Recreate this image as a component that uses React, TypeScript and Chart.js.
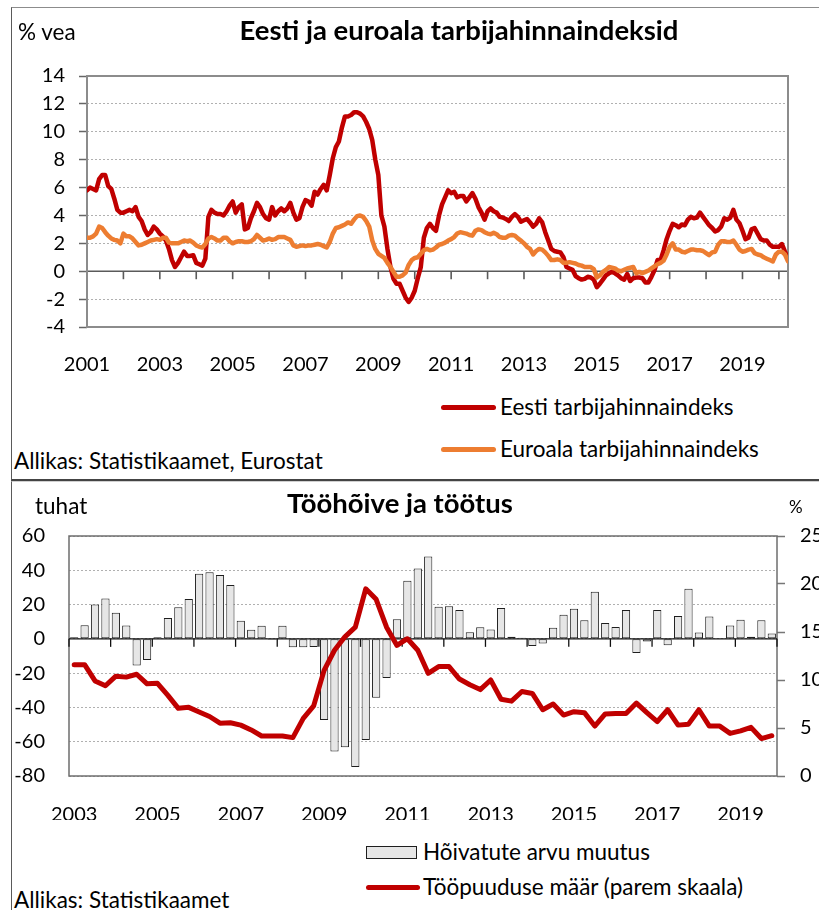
import React, { useEffect, useRef } from 'react';
import { Chart, registerables } from 'chart.js';

Chart.register(...registerables);

const FONT = 'Lato, "Open Sans", sans-serif';
const RED = '#C00000';
const ORANGE = '#ED7D31';

// ---------- Top chart: monthly CPI, Jan 2001 .. Apr 2020 ----------
const cpiStartYear = 2001;
const cpiAxisYears = [2001, 2003, 2005, 2007, 2009, 2011, 2013, 2015, 2017, 2019];
const cpiTickYears = [2001, 2002, 2003, 2004, 2005, 2006, 2007, 2008, 2009, 2010, 2011, 2012, 2013, 2014, 2015, 2016, 2017, 2018, 2019, 2020];
const cpiYTicks = [-4, -2, 0, 2, 4, 6, 8, 10, 12, 14];

const estoniaCpi = [
  5.8, 6.0, 5.9, 5.8, 6.6, 6.9, 6.9, 6.1, 5.9, 5.2, 4.4, 4.2,
  4.2, 4.3, 4.4, 4.3, 4.6, 3.9, 3.6, 3.0, 2.6, 2.8, 3.2, 3.0,
  2.7, 2.5, 2.2, 1.6, 0.8, 0.3, 0.6, 1.0, 1.4, 1.1, 1.1, 1.15,
  0.6, 0.5, 0.4, 0.9, 3.9, 4.4, 4.2, 4.1, 4.1, 4.0, 4.3, 4.7,
  5.0, 4.2, 4.6, 4.8, 3.0, 3.1, 3.8, 4.3, 4.9, 4.6, 4.1, 3.8,
  3.7, 4.6, 4.0, 4.3, 4.5, 4.3, 4.5, 4.9, 4.2, 3.7, 3.8, 4.6,
  5.1, 5.0, 4.7, 5.7, 5.5, 5.9, 6.2, 5.8, 6.9, 8.1, 8.9, 9.3,
  10.3, 11.1, 11.1, 11.2, 11.4, 11.4, 11.3, 11.1, 10.7, 10.2, 9.4, 8.0,
  6.9, 4.0, 3.2, 1.6, 0.3, -0.55, -0.9, -0.9, -1.4, -1.9, -2.2, -1.9,
  -1.4, -0.5, 0.3, 2.4, 3.1, 3.4, 3.1, 2.9, 4.0, 4.8, 5.3, 5.8,
  5.6, 5.7, 5.3, 5.4, 5.4, 5.0, 5.3, 5.6, 5.2, 4.6, 4.2, 3.7,
  4.3, 4.5, 4.3, 4.2, 3.9, 3.85, 3.75, 3.6, 3.9, 4.1, 3.9, 3.55,
  3.65, 3.75, 3.5, 3.2, 3.4, 3.8, 3.5, 2.8, 2.2, 1.6, 1.45, 1.4,
  1.35, 1.0, 0.3, 0.2, 0.1, -0.35, -0.5, -0.6, -0.55, -0.4, -0.45, -0.6,
  -1.15, -0.9, -0.6, -0.3, -0.15, -0.05, -0.15, -0.3, -0.5, -0.6, -0.2, -0.7,
  -0.5, -0.45, -0.45, -0.5, -0.8, -0.8, -0.4, 0.07, 0.8, 0.8, 1.5, 2.3,
  2.9, 3.4, 3.3, 3.15, 3.35, 3.3, 3.7, 3.9, 3.8, 3.85, 4.2, 3.9,
  3.6, 3.3, 3.1, 2.85, 2.95, 3.2, 3.8, 3.7, 3.85, 4.4, 3.7, 3.45,
  2.9, 2.3, 2.4, 3.0, 3.1, 2.7, 2.3, 2.2, 2.2, 1.9, 1.75, 1.75,
  1.75, 1.95, 1.4, 0.9,
];

const euroAreaCpi = [
  2.4, 2.4, 2.5, 2.7, 3.2, 3.1, 2.8, 2.55, 2.35, 2.25, 2.2, 2.0,
  2.7, 2.5, 2.5, 2.35, 2.1, 1.85, 1.9, 2.0, 2.1, 2.2, 2.25, 2.3,
  2.25, 2.4, 2.4, 2.05, 2.0, 2.0, 2.0, 2.1, 2.2, 2.15, 2.2, 2.05,
  1.85, 1.75, 1.7, 1.95, 2.35, 2.45, 2.35, 2.2, 2.2, 2.4, 2.4, 2.15,
  2.0, 2.1, 2.15, 2.15, 2.1, 2.1, 2.15, 2.3, 2.6, 2.4, 2.2, 2.25,
  2.35, 2.25, 2.3, 2.45, 2.45, 2.45, 2.35, 2.25, 1.85, 1.75, 1.8, 1.85,
  1.8, 1.85, 1.85, 1.9, 1.95, 1.9, 1.8, 1.7, 2.1, 2.7, 3.1, 3.15,
  3.25, 3.35, 3.5, 3.4, 3.7, 3.95, 4.0, 3.9, 3.6, 3.2, 2.2, 1.6,
  1.25, 1.1, 0.95, 0.6, 0.3, -0.05, -0.4, -0.4, -0.3, -0.1, 0.45, 0.8,
  0.95, 1.0, 1.25, 1.5, 1.6, 1.5, 1.55, 1.7, 1.9, 1.95, 2.05, 2.2,
  2.3, 2.45, 2.7, 2.8, 2.75, 2.7, 2.6, 2.55, 2.9, 3.0, 2.95, 2.8,
  2.7, 2.65, 2.75, 2.65, 2.45, 2.4, 2.4, 2.55, 2.6, 2.55, 2.35, 2.2,
  2.0, 1.75, 1.6, 1.2, 1.45, 1.6, 1.55, 1.35, 1.1, 0.8, 0.8, 0.85,
  0.8, 0.6, 0.6, 0.65, 0.6, 0.55, 0.45, 0.4, 0.3, 0.3, 0.3, 0.15,
  -0.45, -0.3, -0.05, 0.1, 0.3, 0.25, 0.2, 0.05, 0.0, 0.1, 0.2, 0.25,
  0.3, -0.15, -0.05, -0.15, -0.05, 0.05, 0.2, 0.35, 0.5, 0.6, 0.75, 1.2,
  1.75, 2.0, 1.55, 1.55, 1.4, 1.35, 1.45, 1.55, 1.55, 1.5, 1.5, 1.45,
  1.3, 1.15, 1.35, 1.4, 1.9, 2.15, 2.15, 2.1, 2.1, 2.2, 1.9, 1.55,
  1.4, 1.45, 1.55, 1.6, 1.3, 1.2, 1.15, 1.0, 0.9, 0.8, 0.7, 1.2,
  1.4, 1.4, 1.2, 0.7,
];

// ---------- Bottom chart: quarterly labour market, 2003 .. 2019 ----------
const lmYears = [2003, 2004, 2005, 2006, 2007, 2008, 2009, 2010, 2011, 2012, 2013, 2014, 2015, 2016, 2017, 2018, 2019];
const quarterNames = ['I', 'II', 'III', 'IV'];
const lmLabelYears = [2003, 2005, 2007, 2009, 2011, 2013, 2015, 2017, 2019];
const lmLeftTicks = [-80, -60, -40, -20, 0, 20, 40, 60];
const lmRightTicks = [0, 5, 10, 15, 20, 25];

const employmentChange = [
  1, 8, 20, 23.5, 15.3, 7.8, -15.5, -12.4, 1, 12.2,
  18.4, 23.3, 38, 38.8, 37.2, 31.4, 10.6, 5.3, 7.6, -0.5,
  7.6, -4.9, -4.9, -4.7, -47.4, -65.7, -63.3, -74.7, -59, -34.3,
  -22.9, 11.4, 33.9, 41, 48, 18.8, 19, 16.9, 3.9, 6.7,
  5.5, 18, 1.2, 0.6, -4.1, -2.7, 6.5, 14.1, 17.5, 10.8,
  27.5, 9.2, 6.9, 16.9, -8.2, -1.6, 16.9, -3.7, 13.3, 29.2,
  3.7, 13.1, 0, 7.8, 11.2, 1.2, 10.8, 3.1,
];

const unemploymentRate = [
  11.6, 11.6, 9.9, 9.4, 10.4, 10.3, 10.6, 9.6, 9.65, 8.4,
  7.05, 7.15, 6.67, 6.2, 5.5, 5.55, 5.3, 4.8, 4.17, 4.17,
  4.17, 4.0, 6.0, 7.3, 11.0, 13.1, 14.5, 15.5, 19.5, 18.4,
  15.5, 13.6, 14.3, 13.1, 10.7, 11.4, 11.4, 10.1, 9.5, 9.0,
  10.0, 8.0, 7.8, 8.8, 8.6, 6.9, 7.5, 6.35, 6.7, 6.6,
  5.2, 6.46, 6.5, 6.5, 7.6, 6.6, 5.66, 6.9, 5.3, 5.4,
  6.9, 5.2, 5.2, 4.44, 4.7, 5.07, 3.9, 4.2,
];

const quarterLabels = lmYears.flatMap((y) => quarterNames.map((q) => `${y} ${q}`));

const tickFont = { family: FONT, size: 20 };

const topFramePlugin = {
  id: 'topFrame',
  beforeDatasetsDraw(chart: any) {
    const { ctx, chartArea: a, scales } = chart;
    const y0 = scales.y.getPixelForValue(0);
    ctx.save();
    ctx.strokeStyle = '#5a5a5a';
    ctx.lineWidth = 1.6;
    ctx.beginPath();
    ctx.moveTo(a.left, y0);
    ctx.lineTo(a.right, y0);
    ctx.stroke();
    cpiTickYears.forEach((yr) => {
      const x = scales.x.getPixelForValue((yr - cpiStartYear) * 12);
      ctx.beginPath();
      ctx.moveTo(x, y0);
      ctx.lineTo(x, y0 + 8);
      ctx.stroke();
    });
    ctx.strokeStyle = '#8c8c8c';
    ctx.lineWidth = 2;
    ctx.strokeRect(a.left, a.top, a.right - a.left, a.bottom - a.top);
    ctx.restore();
  },
};

const bottomFramePlugin = {
  id: 'bottomFrame',
  beforeDatasetsDraw(chart: any) {
    const { ctx, chartArea: a, scales } = chart;
    const y0 = scales.y.getPixelForValue(0);
    ctx.save();
    ctx.strokeStyle = '#6e6e6e';
    ctx.lineWidth = 1.5;
    ctx.strokeRect(a.left, a.top, a.right - a.left, a.bottom - a.top);
    ctx.strokeStyle = '#111';
    ctx.lineWidth = 1.3;
    ctx.beginPath();
    ctx.moveTo(a.left, y0);
    ctx.lineTo(a.right, y0);
    ctx.stroke();
    const n = quarterLabels.length;
    for (let k = 0; k <= lmYears.length; k++) {
      const i = k * 4;
      let x;
      if (i === 0) x = a.left;
      else if (i >= n) x = a.right;
      else x = (scales.x.getPixelForValue(i - 1) + scales.x.getPixelForValue(i)) / 2;
      ctx.beginPath();
      ctx.moveTo(x, y0);
      ctx.lineTo(x, y0 + 8);
      ctx.stroke();
    }
    ctx.restore();
  },
};

export default function App() {
  const topRef = useRef<HTMLCanvasElement>(null);
  const botRef = useRef<HTMLCanvasElement>(null);

  useEffect(() => {
    const top = new Chart(topRef.current as HTMLCanvasElement, {
      type: 'line',
      data: {
        datasets: [
          {
            label: 'Euroala tarbijahinnaindeks',
            data: euroAreaCpi.map((v, i) => ({ x: i, y: v })),
            borderColor: ORANGE,
            borderWidth: 4.5,
            pointRadius: 0,
            tension: 0,
            borderJoinStyle: 'round',
            borderCapStyle: 'round',
            order: 0,
          },
          {
            label: 'Eesti tarbijahinnaindeks',
            data: estoniaCpi.map((v, i) => ({ x: i, y: v })),
            borderColor: RED,
            borderWidth: 4.5,
            pointRadius: 0,
            tension: 0,
            borderJoinStyle: 'round',
            borderCapStyle: 'round',
            order: 1,
          },
        ],
      },
      options: {
        animation: false,
        responsive: false,
        maintainAspectRatio: false,
        layout: { padding: { top: 76, right: 31, bottom: 0, left: 0 } },
        plugins: { legend: { display: false }, tooltip: { enabled: false }, title: { display: false } },
        scales: {
          x: {
            type: 'linear',
            min: 0,
            max: 231,
            grid: { display: false },
            border: { display: false },
            afterBuildTicks: (s: any) => {
              s.ticks = cpiAxisYears.map((y) => ({ value: (y - cpiStartYear) * 12 }));
            },
            ticks: {
              autoSkip: false,
              maxRotation: 0,
              padding: 18,
              color: '#000',
              font: tickFont,
              callback: (v: any) => String(cpiStartYear + Math.round(Number(v) / 12)),
            },
            afterFit: (s: any) => {
              s.height = 53;
            },
          },
          y: {
            min: -4,
            max: 14,
            afterBuildTicks: (s: any) => {
              s.ticks = cpiYTicks.map((v) => ({ value: v }));
            },
            ticks: { padding: 14, color: '#000', font: tickFont },
            grid: { color: '#b0b0b0', lineWidth: 1, drawTicks: true, tickLength: 8, tickColor: '#666', tickWidth: 1.5 },
            border: { display: false, dash: [2, 2] },
            afterFit: (s: any) => {
              s.width = 87;
            },
          },
        },
      } as any,
      plugins: [topFramePlugin],
    } as any);

    const bot = new Chart(botRef.current as HTMLCanvasElement, {
      type: 'bar',
      data: {
        labels: quarterLabels,
        datasets: [
          {
            type: 'line',
            label: 'Tööpuuduse määr (parem skaala)',
            data: unemploymentRate,
            yAxisID: 'y1',
            borderColor: RED,
            borderWidth: 5,
            pointRadius: 0,
            tension: 0,
            borderJoinStyle: 'round',
            borderCapStyle: 'round',
            order: 0,
          },
          {
            type: 'bar',
            label: 'Hõivatute arvu muutus',
            data: employmentChange,
            yAxisID: 'y',
            backgroundColor: '#e6e6e6',
            borderColor: '#1e1e1e',
            borderWidth: 1,
            borderSkipped: false,
            categoryPercentage: 1,
            barPercentage: 0.79,
            order: 1,
          },
        ],
      },
      options: {
        animation: false,
        responsive: false,
        maintainAspectRatio: false,
        layout: { padding: { top: 56, right: 0, bottom: 0, left: 0 } },
        plugins: { legend: { display: false }, tooltip: { enabled: false }, title: { display: false } },
        scales: {
          x: {
            type: 'category',
            offset: true,
            grid: { display: false },
            border: { display: false },
            ticks: {
              autoSkip: false,
              maxRotation: 0,
              padding: 19,
              color: '#000',
              font: tickFont,
              callback: (v: any, i: number) => {
                const year = lmYears[Math.floor(i / 4)];
                return i % 4 === 0 && lmLabelYears.includes(year) ? String(year) : '';
              },
            },
            afterFit: (s: any) => {
              s.height = 44;
            },
          },
          y: {
            position: 'left',
            min: -80,
            max: 60,
            afterBuildTicks: (s: any) => {
              s.ticks = lmLeftTicks.map((v) => ({ value: v }));
            },
            ticks: { padding: 24, color: '#000', font: tickFont },
            grid: { color: '#b0b0b0', lineWidth: 1, drawTicks: false },
            border: { display: false, dash: [2, 2] },
            afterFit: (s: any) => {
              s.width = 69;
            },
          },
          y1: {
            position: 'right',
            min: 0,
            max: 25,
            afterBuildTicks: (s: any) => {
              s.ticks = lmRightTicks.map((v) => ({ value: v }));
            },
            ticks: { padding: 15, color: '#000', font: tickFont },
            grid: { drawOnChartArea: false, drawTicks: true, tickLength: 8, tickColor: '#777', tickWidth: 1.5 },
            border: { display: false },
            afterFit: (s: any) => {
              s.width = 42;
            },
          },
        },
      } as any,
      plugins: [bottomFramePlugin],
    } as any);

    return () => {
      top.destroy();
      bot.destroy();
    };
  }, []);

  const txt = (left: number, cy: number, extra: React.CSSProperties = {}): React.CSSProperties => ({
    position: 'absolute',
    left,
    top: cy,
    transform: 'translateY(-50%)',
    lineHeight: 1,
    whiteSpace: 'nowrap',
    fontSize: 22.5,
    color: '#000',
    ...extra,
  });
  const title = (cx: number, cy: number): React.CSSProperties => ({
    position: 'absolute',
    left: cx,
    top: cy,
    transform: 'translate(-50%, -50%)',
    lineHeight: 1,
    whiteSpace: 'nowrap',
    fontSize: 27.5,
    fontWeight: 700,
    color: '#000',
  });
  const swatch = (top: number, color: string): React.CSSProperties => ({
    position: 'absolute',
    left: 441,
    top: top - 2.5,
    width: 55,
    height: 5,
    borderRadius: 3,
    background: color,
  });

  return (
    <div
      style={{
        position: 'absolute',
        left: 0,
        top: 0,
        width: 819,
        height: 910,
        overflow: 'hidden',
        background: '#fff',
        fontFamily: FONT,
      }}
    >
      <div
        style={{
          position: 'absolute',
          left: 11,
          top: 7,
          width: 830,
          height: 471,
          borderLeft: '1.5px solid #5a5a5a',
          borderTop: '1.5px solid #8c8c8c',
          borderBottom: '2px solid #444',
        }}
      />
      <div
        style={{
          position: 'absolute',
          left: 11,
          top: 481,
          width: 830,
          height: 450,
          borderLeft: '1.5px solid #5a5a5a',
          borderTop: '1px solid #d0d0d0',
        }}
      />

      <canvas ref={topRef} width={819} height={380} style={{ position: 'absolute', left: 0, top: 0 }} />
      <canvas ref={botRef} width={819} height={340} style={{ position: 'absolute', left: 0, top: 480 }} />

      <div style={txt(18, 32)}>% vea</div>
      <div style={title(459, 30)}>Eesti ja euroala tarbijahinnaindeksid</div>
      <div style={swatch(407, RED)} />
      <div style={txt(500, 407)}>Eesti tarbijahinnaindeks</div>
      <div style={swatch(449, ORANGE)} />
      <div style={txt(500, 449)}>Euroala tarbijahinnaindeks</div>
      <div style={txt(14, 461)}>Allikas: Statistikaamet, Eurostat</div>

      <div style={txt(35, 506)}>tuhat</div>
      <div style={title(400, 503)}>Tööhõive ja töötus</div>
      <div style={txt(789, 506, { fontSize: 17 })}>%</div>
      <div
        style={{
          position: 'absolute',
          left: 366,
          top: 846,
          width: 49,
          height: 11,
          background: '#e6e6e6',
          border: '1px solid #1e1e1e',
        }}
      />
      <div style={txt(423, 852)}>Hõivatute arvu muutus</div>
      <div style={{ ...swatch(887, RED), left: 366, width: 54 }} />
      <div style={txt(423, 887)}>Tööpuuduse määr (parem skaala)</div>
      <div style={txt(14, 900)}>Allikas: Statistikaamet</div>
    </div>
  );
}
